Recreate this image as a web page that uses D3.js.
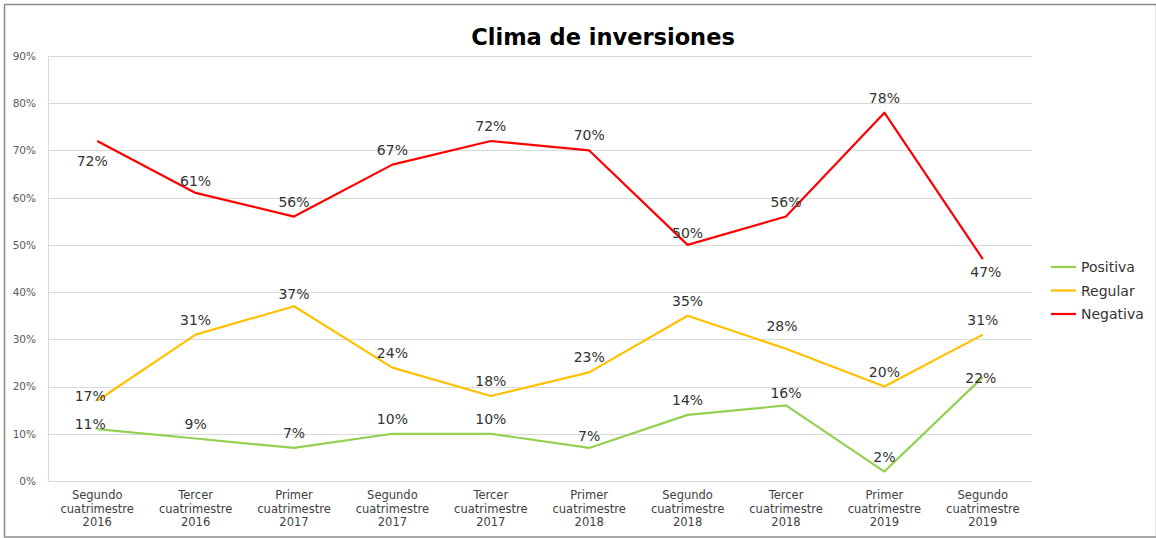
<!DOCTYPE html>
<html>
<head>
<meta charset="utf-8">
<script src="https://cdn.jsdelivr.net/npm/d3@7"></script>
<style>
  html, body { margin: 0; padding: 0; background: #fff; }
  svg { display: block; }
</style>
</head>
<body>
<svg id="chart" width="1156" height="538"></svg>
<script>
// Periods on the x axis (each label split over lines)
const categories = [
  ["Segundo", "cuatrimestre", "2016"],
  ["Tercer", "cuatrimestre", "2016"],
  ["Primer", "cuatrimestre", "2017"],
  ["Segundo", "cuatrimestre", "2017"],
  ["Tercer", "cuatrimestre", "2017"],
  ["Primer", "cuatrimestre", "2018"],
  ["Segundo", "cuatrimestre", "2018"],
  ["Tercer", "cuatrimestre", "2018"],
  ["Primer", "cuatrimestre", "2019"],
  ["Segundo", "cuatrimestre", "2019"]
];

// Share of responses (%)
const positiva = [11, 9, 7, 10, 10, 7, 14, 16, 2, 22];
const regular  = [17, 31, 37, 24, 18, 23, 35, 28, 20, 31];
const negativa = [72, 61, 56, 67, 72, 70, 50, 56, 78, 47];

const yTicks = [0, 10, 20, 30, 40, 50, 60, 70, 80, 90];
const seriesNames = ["Positiva", "Regular", "Negativa"];

// Where each value label sits relative to its point
const positivaLabelPos = ["left", "above", "above", "above", "above", "near", "above", "near", "above", "onPoint"];
const regularLabelPos  = ["left", "above", "near", "above", "above", "above", "above", "far", "above", "above"];
const negativaLabelPos = ["below", "near", "above", "above", "above", "above", "near", "above", "above", "belowNear"];

const series = [
  { name: seriesNames[0], values: positiva, pos: positivaLabelPos, color: "#92D050" },
  { name: seriesNames[1], values: regular,  pos: regularLabelPos,  color: "#FFC000" },
  { name: seriesNames[2], values: negativa, pos: negativaLabelPos, color: "#FF0000" }
];

const svg = d3.select("#chart");
const font = "'DejaVu Sans', 'Noto Sans', sans-serif";

// outer frame
svg.append("rect")
  .attr("x", 4.5).attr("y", 4.5)
  .attr("width", 1152).attr("height", 532.5)
  .attr("fill", "none").attr("stroke", "#8c8c8c").attr("stroke-width", 1.5);

const plot = { left: 48, right: 1032, top: 56, bottom: 481 };

const x = d3.scaleBand()
  .domain(d3.range(categories.length))
  .range([plot.left, plot.right]);
const cx = i => x(i) + x.bandwidth() / 2;

const y = d3.scaleLinear()
  .domain([0, 90])
  .range([plot.bottom, plot.top]);

// gridlines
svg.append("g")
  .selectAll("line")
  .data(yTicks)
  .join("line")
  .attr("x1", plot.left).attr("x2", plot.right)
  .attr("y1", d => Math.round(y(d)) + 0.5).attr("y2", d => Math.round(y(d)) + 0.5)
  .attr("stroke", "#d9d9d9").attr("stroke-width", 1);

// left axis line
svg.append("line")
  .attr("x1", plot.left + 0.5).attr("x2", plot.left + 0.5)
  .attr("y1", plot.top).attr("y2", plot.bottom)
  .attr("stroke", "#d9d9d9");

// y axis labels
const yAxis = d3.axisLeft(y).tickValues(yTicks).tickFormat(d => d + "%").tickSize(0).tickPadding(12);
const yg = svg.append("g").attr("transform", `translate(${plot.left},0)`).call(yAxis);
yg.select(".domain").remove();
yg.selectAll("text")
  .attr("font-family", font).attr("font-size", 10.5).attr("fill", "#595959");

// x axis labels
const xAxis = d3.axisBottom(x).tickSize(0).tickFormat("");
const xg = svg.append("g").attr("transform", `translate(0,${plot.bottom})`).call(xAxis);
xg.select(".domain").remove();
xg.selectAll(".tick").each(function (i) {
  const t = d3.select(this).append("text")
    .attr("text-anchor", "middle")
    .attr("font-family", font).attr("font-size", 11.5).attr("fill", "#404040");
  categories[i].forEach((line, k) => {
    t.append("tspan").attr("x", 0).attr("y", 18 + k * 13.5).text(line);
  });
});

// series lines
const line = d3.line().x((d, i) => cx(i)).y(d => y(d));
series.forEach(s => {
  svg.append("path")
    .datum(s.values)
    .attr("d", line)
    .attr("fill", "none")
    .attr("stroke", s.color)
    .attr("stroke-width", 2.2)
    .attr("stroke-linejoin", "round");
});

// value labels: offsets of the text centre from the point
const offsets = {
  above:     { dx: 0,  dy: -15 },
  near:      { dx: 0,  dy: -12 },
  far:       { dx: -4, dy: -23 },
  below:     { dx: -5, dy: 20 },
  belowNear: { dx: 3,  dy: 13 },
  left:      { dx: -7, dy: -5 },
  onPoint:   { dx: -2, dy: 1 }
};
series.forEach(s => {
  svg.append("g")
    .selectAll("text")
    .data(s.values)
    .join("text")
    .attr("x", (d, i) => cx(i) + offsets[s.pos[i]].dx)
    .attr("y", (d, i) => y(d) + offsets[s.pos[i]].dy + 5)
    .attr("text-anchor", "middle")
    .attr("font-family", font).attr("font-size", 14).attr("fill", "#333")
    .text(d => d + "%");
});

// title
svg.append("text")
  .attr("x", 603).attr("y", 45)
  .attr("text-anchor", "middle")
  .attr("font-family", font).attr("font-weight", "bold").attr("font-size", 22.5)
  .attr("fill", "#000")
  .text("Clima de inversiones");

// legend
const legend = svg.append("g").attr("transform", "translate(1051,267)");
series.forEach((s, k) => {
  const g = legend.append("g").attr("transform", `translate(0,${k * 23.5})`);
  g.append("line").attr("x1", 0).attr("x2", 25).attr("y1", 0).attr("y2", 0)
    .attr("stroke", s.color).attr("stroke-width", 2.2);
  g.append("text").attr("x", 30).attr("y", 5)
    .attr("font-family", font).attr("font-size", 14).attr("fill", "#333")
    .text(s.name);
});
</script>
</body>
</html>
